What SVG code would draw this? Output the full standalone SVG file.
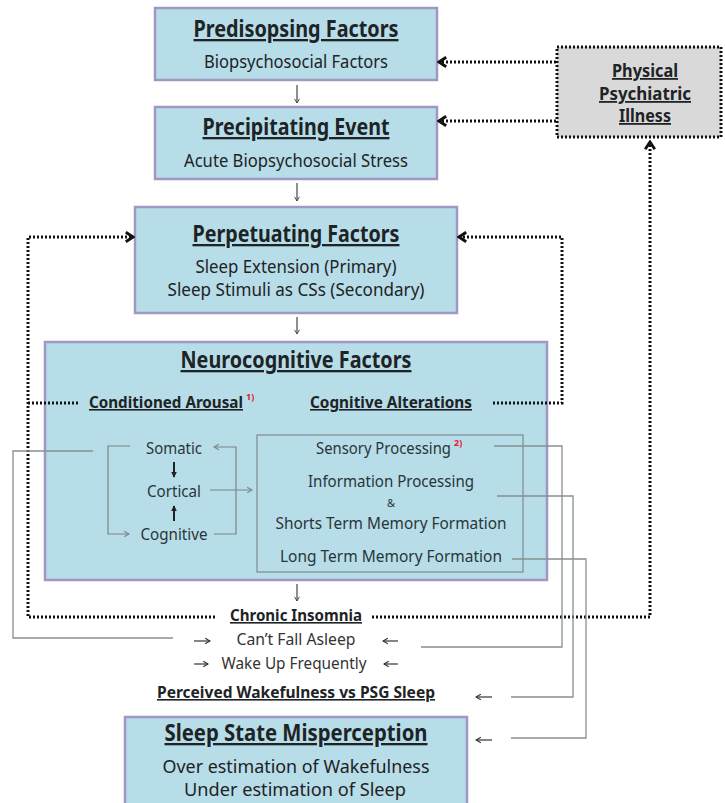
<svg xmlns="http://www.w3.org/2000/svg" width="725" height="803" viewBox="0 0 725 803">
<defs>
<style>
.box{fill:#b7dde8;stroke:#a198c2;stroke-width:2.5}
.ibox{fill:none;stroke:#7f8b8e;stroke-width:1.2}
.phys{fill:#d9d9d9;stroke:#111;stroke-width:3;stroke-dasharray:2 2}
text{font-family:"Noto Sans","Open Sans","Liberation Sans",sans-serif;fill:#1e2326;text-anchor:middle}
.t{font-size:23px;font-weight:bold;text-decoration:underline}
.s{font-size:17.5px}
.h{font-size:16px;font-weight:bold;text-decoration:underline}
.hs{font-size:16px;font-weight:bold;text-anchor:start}
.n{font-size:16px;fill:#2a3538}
.ns{font-size:16px;fill:#2a3538;text-anchor:start}
.u{text-decoration:underline}
.sup{font-size:9px;font-weight:bold;fill:#e0202a}
.dot{fill:none;stroke:#111;stroke-width:3;stroke-dasharray:2 2}
.g{fill:none;stroke:#87918f;stroke-width:1.3}
.ar{fill:none;stroke:#444;stroke-width:1.2}
.ga{fill:none;stroke:#7c8584;stroke-width:1.2}
.ka{fill:none;stroke:#333;stroke-width:1.2}
</style>
<marker id="dh" viewBox="0 0 10 10" refX="8" refY="5" markerWidth="4" markerHeight="4" orient="auto" markerUnits="strokeWidth">
<path d="M2,1 L8,5 L2,9" fill="none" stroke="#111" stroke-width="2.4"/>
</marker>
<marker id="th" viewBox="0 0 10 10" refX="9" refY="5" markerWidth="7" markerHeight="7" orient="auto" markerUnits="userSpaceOnUse">
<path d="M3,1.5 L9,5 L3,8.5" fill="none" stroke="#444" stroke-width="1.3"/>
</marker>
<marker id="gh" viewBox="0 0 10 10" refX="9" refY="5" markerWidth="8" markerHeight="8" orient="auto" markerUnits="userSpaceOnUse">
<path d="M3,1.5 L9,5 L3,8.5" fill="none" stroke="#7c8584" stroke-width="1.4"/>
</marker>
<marker id="kh" viewBox="0 0 10 10" refX="9" refY="5" markerWidth="8" markerHeight="8" orient="auto" markerUnits="userSpaceOnUse">
<path d="M3,1.5 L9,5 L3,8.5" fill="none" stroke="#333" stroke-width="1.4"/>
</marker>
<marker id="bh" viewBox="0 0 10 10" refX="9" refY="5" markerWidth="7" markerHeight="7" orient="auto" markerUnits="userSpaceOnUse">
<path d="M2,1 L10,5 L2,9 Z" fill="#222"/>
</marker>
</defs>
<rect width="725" height="803" fill="#fff"/>

<g id="predisposing">
<rect class="box" x="155" y="8" width="282" height="72"/>
<text class="t" x="296" y="37" textLength="205" lengthAdjust="spacingAndGlyphs">Predisopsing Factors</text>
<text class="s" x="296" y="68" textLength="184" lengthAdjust="spacingAndGlyphs">Biopsychosocial Factors</text>
</g>

<g id="precipitating">
<rect class="box" x="155" y="107" width="282" height="72"/>
<text class="t" x="296" y="135" textLength="187" lengthAdjust="spacingAndGlyphs">Precipitating Event</text>
<text class="s" x="296" y="167" textLength="224" lengthAdjust="spacingAndGlyphs">Acute Biopsychosocial Stress</text>
</g>

<g id="perpetuating">
<rect class="box" x="135" y="207" width="322" height="106"/>
<text class="t" x="296" y="242" textLength="207" lengthAdjust="spacingAndGlyphs">Perpetuating Factors</text>
<text class="s" x="296" y="273" textLength="201" lengthAdjust="spacingAndGlyphs">Sleep Extension (Primary)</text>
<text class="s" x="296" y="296" textLength="257" lengthAdjust="spacingAndGlyphs">Sleep Stimuli as CSs (Secondary)</text>
</g>

<g id="neurocognitive">
<rect class="box" x="45" y="342" width="502" height="238"/>
<text class="t" x="296" y="368" textLength="231" lengthAdjust="spacingAndGlyphs">Neurocognitive Factors</text>
</g>

<g id="conditioned-arousal">
<text class="hs" x="89" y="408"><tspan class="u" textLength="154" lengthAdjust="spacingAndGlyphs">Conditioned Arousal</tspan><tspan class="sup" dx="3" dy="-8">1)</tspan></text>
<text class="n" x="174" y="454" textLength="56" lengthAdjust="spacingAndGlyphs">Somatic</text>
<text class="n" x="174" y="497" textLength="54" lengthAdjust="spacingAndGlyphs">Cortical</text>
<text class="n" x="174" y="540" textLength="67" lengthAdjust="spacingAndGlyphs">Cognitive</text>
</g>

<g id="cognitive-alterations">
<text class="h" x="391" y="408" textLength="162" lengthAdjust="spacingAndGlyphs">Cognitive Alterations</text>
<rect class="ibox" x="257" y="435" width="266" height="137"/>
<text class="ns" x="316" y="454"><tspan textLength="135" lengthAdjust="spacingAndGlyphs">Sensory Processing</tspan><tspan class="sup" dx="3" dy="-8">2)</tspan></text>
<text class="n" x="391" y="487" textLength="166" lengthAdjust="spacingAndGlyphs">Information Processing</text>
<text class="n" x="391" y="507" style="font-size:11px">&amp;</text>
<text class="n" x="391" y="529" textLength="231" lengthAdjust="spacingAndGlyphs">Shorts Term Memory Formation</text>
<text class="n" x="391" y="562" textLength="222" lengthAdjust="spacingAndGlyphs">Long Term Memory Formation</text>
</g>

<g id="physical-illness">
<rect class="phys" x="557" y="47" width="164" height="90"/>
<text x="645" y="77" style="font-size:18px;font-weight:bold;text-decoration:underline" textLength="66" lengthAdjust="spacingAndGlyphs">Physical</text>
<text x="645" y="100" style="font-size:18px;font-weight:bold;text-decoration:underline" textLength="92" lengthAdjust="spacingAndGlyphs">Psychiatric</text>
<text x="645" y="122" style="font-size:18px;font-weight:bold;text-decoration:underline" textLength="52" lengthAdjust="spacingAndGlyphs">Illness</text>
</g>

<g id="chronic-insomnia">
<text class="h" x="296" y="621" textLength="132" lengthAdjust="spacingAndGlyphs">Chronic Insomnia</text>
<text class="s" x="296" y="645" style="font-size:16px;fill:#333" textLength="119" lengthAdjust="spacingAndGlyphs">Can’t Fall Asleep</text>
<text class="s" x="294" y="669" style="font-size:16px;fill:#333" textLength="145" lengthAdjust="spacingAndGlyphs">Wake Up Frequently</text>
</g>

<g id="perceived">
<text class="h" x="296" y="698" textLength="278" lengthAdjust="spacingAndGlyphs">Perceived Wakefulness vs PSG Sleep</text>
</g>

<g id="misperception">
<rect class="box" x="125" y="717" width="342" height="100"/>
<text class="t" x="296" y="741" textLength="263" lengthAdjust="spacingAndGlyphs">Sleep State Misperception</text>
<text class="s" x="296" y="773" textLength="267" lengthAdjust="spacingAndGlyphs">Over estimation of Wakefulness</text>
<text class="s" x="295" y="796" textLength="222" lengthAdjust="spacingAndGlyphs">Under estimation of Sleep</text>
</g>

<g id="connectors">
<line class="ar" x1="297" y1="85" x2="297" y2="103" marker-end="url(#th)"/>
<line class="ar" x1="297" y1="183" x2="297" y2="201" marker-end="url(#th)"/>
<line class="ar" x1="297" y1="317" x2="297" y2="334" marker-end="url(#th)"/>
<line class="ar" x1="297" y1="584" x2="297" y2="601" marker-end="url(#th)"/>
<line class="dot" x1="556" y1="62" x2="439" y2="62" marker-end="url(#dh)"/>
<line class="dot" x1="556" y1="121" x2="439" y2="121" marker-end="url(#dh)"/>
<polyline class="dot" points="215,617 28,617 28,237 133,237" marker-end="url(#dh)"/>
<line class="dot" x1="28" y1="403" x2="80" y2="403"/>
<polyline class="dot" points="493,403 562,403 562,237 459,237" marker-end="url(#dh)"/>
<polyline class="dot" points="372,617 650,617 650,142" marker-end="url(#dh)"/>
<polyline class="ga" points="130,446 108,446 108,534 129,534" marker-end="url(#gh)"/>
<polyline class="ga" points="214,534 236,534 236,447 214,447" marker-end="url(#gh)"/>
<line class="ga" x1="210" y1="490" x2="252" y2="490" marker-end="url(#gh)"/>
<line stroke="#222" stroke-width="2" x1="174" y1="462" x2="174" y2="477" marker-end="url(#bh)"/>
<line stroke="#222" stroke-width="2" x1="174" y1="521" x2="174" y2="506" marker-end="url(#bh)"/>
<polyline class="g" points="93,451 13,451 13,638 173,638"/>
<polyline class="g" points="494,446 562,446 562,647 421,647"/>
<polyline class="g" points="497,496 573,496 573,697 511,697"/>
<polyline class="g" points="512,559 586,559 586,738 511,738"/>
<line class="ka" x1="194" y1="641" x2="210" y2="641" marker-end="url(#kh)"/>
<line class="ka" x1="398" y1="641" x2="383" y2="641" marker-end="url(#kh)"/>
<line class="ka" x1="194" y1="664" x2="208" y2="664" marker-end="url(#kh)"/>
<line class="ka" x1="398" y1="664" x2="384" y2="664" marker-end="url(#kh)"/>
<line class="ka" x1="492" y1="697" x2="476" y2="697" marker-end="url(#kh)"/>
<line class="ka" x1="492" y1="740" x2="476" y2="740" marker-end="url(#kh)"/>
</g>
</svg>
